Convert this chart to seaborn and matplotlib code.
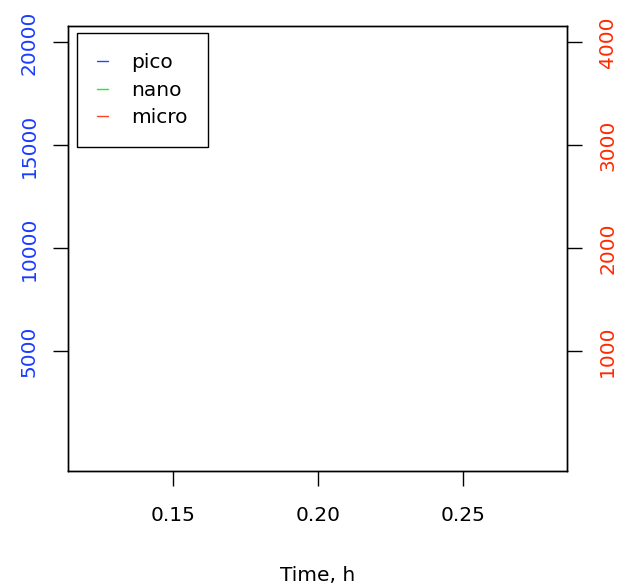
import matplotlib
matplotlib.use("Agg")
import matplotlib.pyplot as plt
import seaborn as sns
import pandas as pd

# series shown in the legend (no points fall inside the visible window)
series = ["pico", "nano", "micro"]
series_colors = ["#2048ff", "#22ee22", "#ff4422"]
time_h = []
pico = []
nano = []
micro = []

x_ticks = [0.15, 0.20, 0.25]
left_ticks = [5000, 10000, 15000, 20000]
right_ticks = [1000, 2000, 3000, 4000]

sns.set_style("ticks")
plt.rcParams["font.family"] = ["DejaVu Sans"]
plt.rcParams["text.color"] = "black"
plt.rcParams["xtick.color"] = "black"
plt.rcParams["ytick.color"] = "black"
fs = 14.5

fig = plt.figure(figsize=(6.26, 5.88), dpi=100)
ax = fig.add_axes([0.1086, 0.199, 0.797, 0.757])
ax2 = ax.twinx()

df = pd.DataFrame({"time": time_h, "pico": pico, "nano": nano}, dtype=float)
sns.lineplot(data=df, x="time", y="pico", color=series_colors[0], ax=ax, label=series[0])
sns.lineplot(data=df, x="time", y="nano", color=series_colors[1], ax=ax, label=series[1])
df2 = pd.DataFrame({"time": time_h, "micro": micro}, dtype=float)
sns.lineplot(data=df2, x="time", y="micro", color=series_colors[2], ax=ax2, label=series[2])

ax.set_xlim(0.1138, 0.2859)
ax.set_ylim(-800, 20800)
ax2.set_ylim(-160, 4160)

ax.set_xticks(x_ticks)
ax.set_xticklabels([f"{v:.2f}" for v in x_ticks], fontsize=fs, color="black")
ax.set_yticks(left_ticks)
ax.set_yticklabels([str(v) for v in left_ticks], fontsize=fs, color="#1a3cff",
                   rotation=90, va="center")
ax2.set_yticks(right_ticks)
ax2.set_yticklabels([str(v) for v in right_ticks], fontsize=fs, color="#ff2a00",
                    rotation=90, va="center")

ax.tick_params(axis="x", length=11, width=1, color="black", pad=14)
ax.tick_params(axis="y", length=11, width=1, color="black", pad=10)
ax2.tick_params(axis="y", length=11, width=1, color="black", pad=11.5)

ax.set_xlabel("Time, h", fontsize=fs, color="black")
ax.xaxis.set_label_coords(0.5, -0.234)
ax.xaxis.label.set_va("center")
ax.set_ylabel("")
ax2.set_ylabel("")

for a in (ax, ax2):
    for s in a.spines.values():
        s.set_visible(True)
        s.set_linewidth(1)
        s.set_color("black")

h1, l1 = ax.get_legend_handles_labels()
h2, l2 = ax2.get_legend_handles_labels()
if ax2.get_legend():
    ax2.get_legend().remove()
leg = ax.legend(h1 + h2, l1 + l2, loc="upper left", bbox_to_anchor=(0.018, 0.984),
                borderaxespad=0, fontsize=fs, frameon=True, fancybox=False,
                framealpha=1, edgecolor="black", handlelength=0.55,
                handletextpad=1.15, labelspacing=0.42, borderpad=1.0,
                labelcolor="black")
leg.get_frame().set_linewidth(1)
for line in leg.get_lines():
    line.set_linewidth(1)

fig.savefig("out.png", dpi=100)
